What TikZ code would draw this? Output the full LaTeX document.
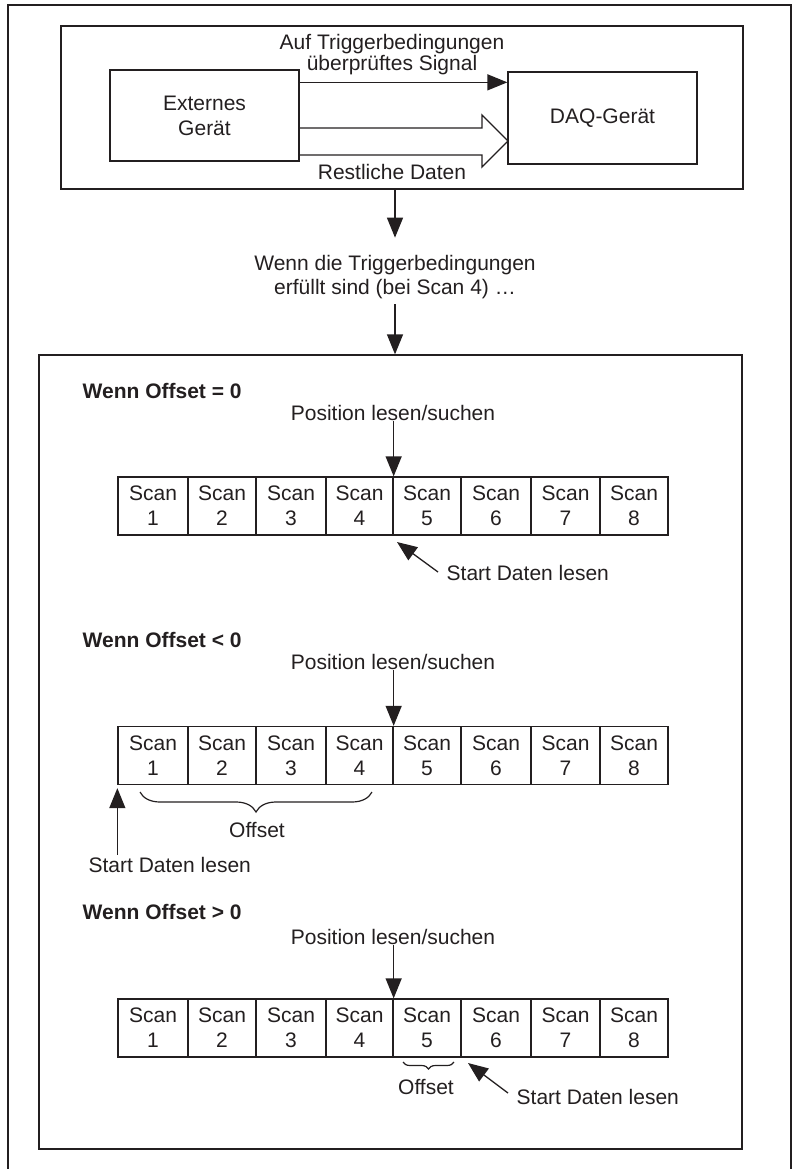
\documentclass[tikz,border=0pt]{standalone}
\usepackage{fontspec}
\setmainfont{Liberation Sans}
\usetikzlibrary{arrows.meta,decorations.pathreplacing}
\definecolor{ink}{HTML}{231F20}
\begin{document}
\begin{tikzpicture}[x=1pt,y=-1pt,line width=1.3pt,
  every node/.style={font=\fontsize{21}{25}\selectfont, text=ink, inner sep=0pt},
  box/.style={draw=ink, rectangle, align=center},
  arr/.style={draw=ink, -{Triangle[length=20pt,width=16pt]}},
  cell/.style={draw=ink, rectangle, minimum height=58pt, align=center},
  heading/.style={anchor=west, font=\fontsize{21}{25}\selectfont\bfseries},
  lbl/.style={align=center},
  bracedown/.style={draw=ink, line width=1.2pt, decorate, decoration={brace, mirror, amplitude=#1}}]
\useasboundingbox (0,0) rectangle (793,1169);
% outer frame
\draw[ink, line width=1.5pt] (8,1180) -- (8,5) -- (791,5) -- (791,1180);

% upper block: external device feeding the DAQ device
\node[box, minimum width=682pt, minimum height=163pt] (top) at (402,107.5) {};
\node[box, minimum width=189pt, minimum height=91pt] (ext) at (204.5,115.5) {Externes\\Gerät};
\node[box, minimum width=189pt, minimum height=92pt] (daq) at (602.5,118) {DAQ-Gerät};
\node[lbl, font=\fontsize{21}{21}\selectfont] (sig) at (392,54.5) {Auf Triggerbedingungen\\überprüftes Signal};
\node (rest) at (392,172) {Restliche Daten};
\draw[arr] ([yshift=-13pt]ext.north east) -- ([yshift=-11pt]daq.north west);
% hollow data arrow
\draw[ink, line join=miter] (299,128) -- (482,128) -- (482,115) -- (508,141) -- (482,167) -- (482,155) -- (299,155);

% trigger condition
\node[lbl, font=\fontsize{21}{24}\selectfont] (cond) at (395,277) {Wenn die Triggerbedingungen\\erfüllt sind (bei Scan 4) …};
\node[box, minimum width=703pt, minimum height=794pt] (bot) at (390.5,752) {};
\draw[arr] (top.south -| cond.north) -- ++(0,48);
\draw[arr] ([yshift=-5pt]cond.south) -- (bot.north -| cond.south);

% three scan buffers
\foreach \r/\y in {1/506,2/755.5,3/1028}{
  \foreach \c/\a/\b in {1/118/188,2/188/256,3/256/326,4/326/393,5/393/461,6/461/531,7/531/600,8/600/668}{
    \pgfmathsetmacro\w{\b-\a}
    \pgfmathsetmacro\xc{(\a+\b)/2}
    \node[cell, minimum width=\w pt] (r\r-\c) at (\xc,\y) {Scan\\\c};
  }
}

% case: offset = 0
\node[heading] (h1) at (82,391) {Wenn Offset = 0};
\node (pos1) at (393,413) {Position lesen/suchen};
\draw[arr] (pos1.south -| r1-4.north east) -- (r1-4.north east);
\node[anchor=west] (st1) at (446,573) {Start Daten lesen};
\coordinate (t1) at (397,542);
\draw[arr] ([xshift=-8pt,yshift=1pt]st1.west) -- (t1);

% case: offset < 0
\node[heading] (h2) at (82,640) {Wenn Offset < 0};
\node (pos2) at (393,662) {Position lesen/suchen};
\draw[arr] (pos2.south -| r2-4.north east) -- (r2-4.north east);
\draw[bracedown=20pt] (140,792) -- (372,792);
\node (off2) at (257,830) {Offset};
\node[anchor=west] (st2) at (88,865) {Start Daten lesen};
\draw[arr] ([yshift=2pt]st2.north -| r2-1.south west) -- ([yshift=-3pt]r2-1.south west);

% case: offset > 0
\node[heading] (h3) at (82,912) {Wenn Offset > 0};
\node (pos3) at (393,937) {Position lesen/suchen};
\draw[arr] (pos3.south -| r3-4.north east) -- (r3-4.north east);
\draw[bracedown=7pt] (403,1062) -- (454,1062);
\node (off3) at (426,1087) {Offset};
\node[anchor=west] (st3) at (516,1097) {Start Daten lesen};
\coordinate (t3) at (468,1063);
\draw[arr] ([xshift=-8pt,yshift=4pt]st3.west) -- (t3);
\end{tikzpicture}
\end{document}
